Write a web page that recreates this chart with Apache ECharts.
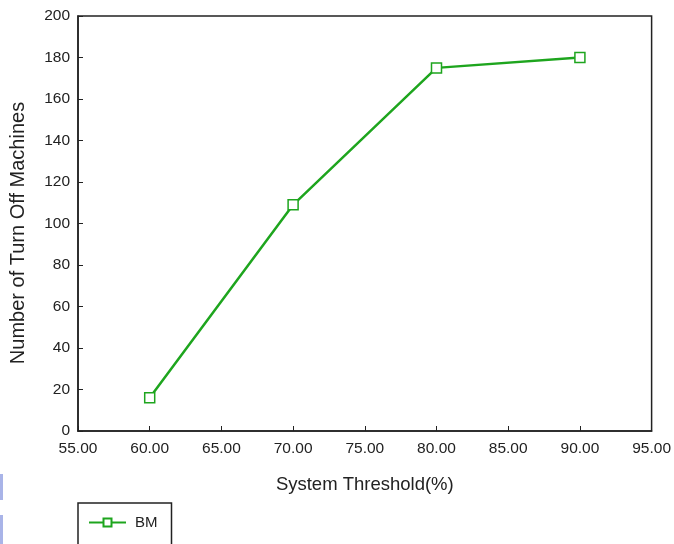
<!DOCTYPE html>
<html>
<head>
<meta charset="utf-8">
<script src="https://cdn.jsdelivr.net/npm/echarts@6/dist/echarts.min.js"></script>
<style>
  html, body { margin: 0; padding: 0; background: #fff; }
  #chart { width: 674px; height: 544px; }
</style>
</head>
<body>
<div id="chart"></div>
<script>
var thresholds = [60, 70, 80, 90];
var turnOff = [16, 109, 175, 180];
var seriesName = 'BM';

var green = '#1ea51e';
var font = 'Liberation Sans, Arial, sans-serif';

var chart = echarts.init(document.getElementById('chart'));

chart.setOption({
    animation: false,
    backgroundColor: '#fff',
    grid: { left: 78, right: 22, top: 16, bottom: 113, show: true, borderColor: '#222', borderWidth: 1.5, backgroundColor: 'transparent' },
    xAxis: {
        type: 'value', min: 55, max: 95, interval: 5,
        name: 'System Threshold(%)', nameLocation: 'middle', nameGap: 44,
        nameTextStyle: { fontFamily: font, fontSize: 18.5, color: '#222' },
        axisLine: { lineStyle: { color: '#222', width: 1.5 } },
        axisTick: { inside: true, length: 5, lineStyle: { color: '#222' } },
        axisLabel: { fontFamily: font, fontSize: 15.5, color: '#222', margin: 10,
            formatter: function (v) { return v.toFixed(2); } },
        splitLine: { show: false }
    },
    yAxis: {
        type: 'value', min: 0, max: 200, interval: 20,
        name: 'Number of Turn Off Machines', nameLocation: 'middle', nameGap: 50,
        nameTextStyle: { fontFamily: font, fontSize: 20, color: '#222', padding: [0, 19, 0, 0] },
        axisLine: { show: true, lineStyle: { color: '#222', width: 1.5 } },
        axisTick: { show: true, inside: true, length: 5, lineStyle: { color: '#222' } },
        axisLabel: { fontFamily: font, fontSize: 15.5, color: '#222', margin: 8 },
        splitLine: { show: false }
    },
    legend: {
        left: 78, top: 503, padding: [12, 14, 20, 10],
        borderColor: '#222', borderWidth: 1.5,
        itemWidth: 37, itemHeight: 10, itemGap: 8,
        textStyle: { fontFamily: font, fontSize: 15, color: '#222', padding: [0, 0, 0, 4] },
        data: [seriesName]
    },
    graphic: [
        { type: 'rect', shape: { x: 0, y: 474, width: 3, height: 26 }, style: { fill: '#a9b4e8' } },
        { type: 'rect', shape: { x: 0, y: 515, width: 3, height: 29 }, style: { fill: '#a9b4e8' } }
    ],
    series: [{
        name: seriesName,
        type: 'line',
        data: thresholds.map(function (t, i) { return [t, turnOff[i]]; }),
        symbol: 'rect', symbolSize: 10,
        lineStyle: { color: green, width: 2.5 },
        itemStyle: { color: '#fff', borderColor: green, borderWidth: 1.5 }
    }]
});
</script>
</body>
</html>
